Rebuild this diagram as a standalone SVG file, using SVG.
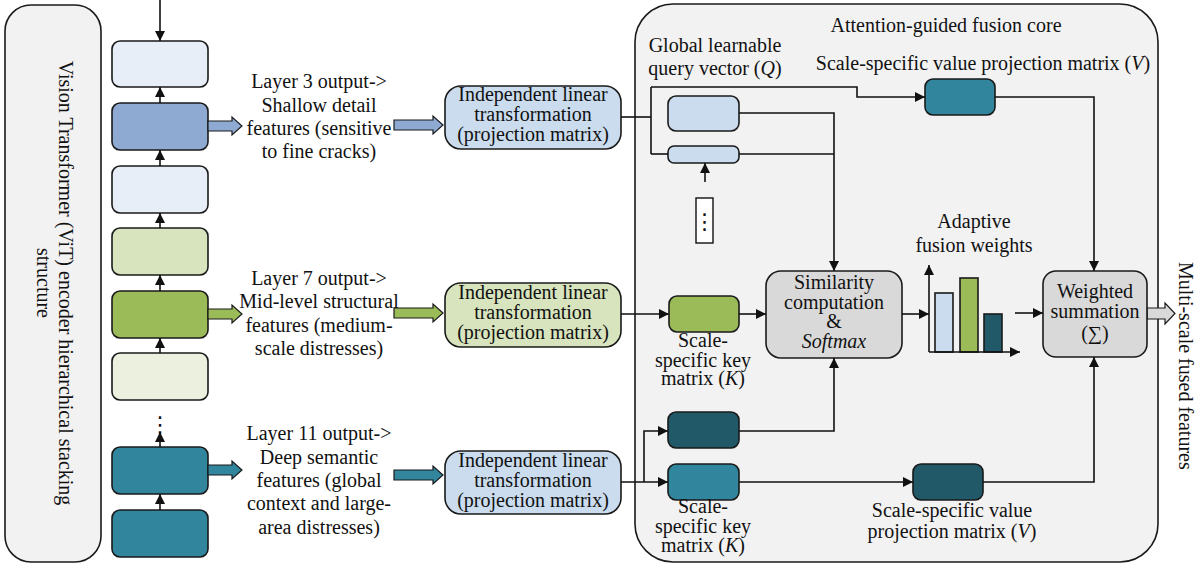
<svg xmlns="http://www.w3.org/2000/svg" width="1200" height="567" viewBox="0 0 1200 567">
<defs>
<style>
text{font-family:"Liberation Serif","Times New Roman",serif;font-size:20px;fill:#111}
.c{text-anchor:middle}
.i{font-style:italic}
.box{stroke:#1a1a1a;stroke-width:1.6}
.pan{fill:#f2f2f2;stroke:#1a1a1a;stroke-width:1.6}
.ln{fill:none;stroke:#111;stroke-width:1.6}
.ar{fill:none;stroke:#111;stroke-width:1.6;marker-end:url(#ah)}
.fat{stroke:#1a1a1a;stroke-width:1.2}
.lb{fill:#e7eef8}.bl{fill:#8eaad3}.lg{fill:#d7e4bd}.gr{fill:#9bbb59}.pg{fill:#ebf1de}.tl{fill:#31859c}.dk{fill:#215968}.qb{fill:#cadcee}.gy{fill:#d9d9d9}
.dots{font-family:"DejaVu Sans",sans-serif;font-size:22px;text-anchor:middle}
</style>
<marker id="ah" viewBox="0 0 10 10" refX="10" refY="5" markerWidth="11" markerHeight="10" markerUnits="userSpaceOnUse" orient="auto"><path d="M0,0 L10,5 L0,10 z" fill="#111"/></marker>
</defs>
<rect width="1200" height="567" fill="#ffffff"/>

<g id="encoder-panel">
<rect class="pan" x="5" y="5" width="96" height="557" rx="26"/>
<text transform="translate(59,283) rotate(90)" class="c"><tspan x="0" y="0">Vision Transformer (ViT) encoder hierarchical stacking</tspan><tspan x="0" y="22">structure</tspan></text>
</g>

<g id="core-panel">
<rect class="pan" x="635" y="4" width="523" height="558" rx="38"/>
<text x="946" y="32" class="c">Attention-guided fusion core</text>
</g>

<g id="layer-blocks">
<rect class="box lb" x="112" y="41" width="96" height="46" rx="8"/>
<rect class="box bl" x="112" y="103" width="96" height="47" rx="8"/>
<rect class="box lb" x="112" y="166" width="96" height="47" rx="8"/>
<rect class="box lg" x="112" y="228" width="96" height="47" rx="8"/>
<rect class="box gr" x="112" y="291" width="96" height="47" rx="8"/>
<rect class="box pg" x="112" y="353" width="96" height="47" rx="8"/>
<text class="dots" x="160" y="432">⋮</text>
<rect class="box tl" x="112" y="447" width="96" height="47" rx="8"/>
<rect class="box tl" x="112" y="510" width="96" height="47" rx="8"/>
</g>

<g id="label-layer3">
<text class="c"><tspan x="319" y="88">Layer 3 output-&gt;</tspan><tspan x="319" y="111.5">Shallow detail</tspan><tspan x="319" y="135">features (sensitive</tspan><tspan x="319" y="158">to fine cracks)</tspan></text>
</g>
<g id="label-layer7">
<text class="c"><tspan x="319" y="285">Layer 7 output-&gt;</tspan><tspan x="319" y="308">Mid-level structural</tspan><tspan x="319" y="332">features (medium-</tspan><tspan x="319" y="355">scale distresses)</tspan></text>
</g>
<g id="label-layer11">
<text class="c"><tspan x="319" y="440">Layer 11 output-&gt;</tspan><tspan x="319" y="463.5">Deep semantic</tspan><tspan x="319" y="487">features (global</tspan><tspan x="319" y="510">context and large-</tspan><tspan x="319" y="533.5">area distresses)</tspan></text>
</g>

<g id="fat-arrows">
<polygon class="fat bl" points="208,121 232,121 232,117 242,126 232,135 232,131 208,131"/>
<polygon class="fat bl" points="394,120 433,120 433,116 443,125 433,134 433,130 394,130"/>
<polygon class="fat gr" points="208,309 232,309 232,305 242,314 232,323 232,319 208,319"/>
<polygon class="fat gr" points="394,308 433,308 433,304 443,313 433,322 433,318 394,318"/>
<polygon class="fat tl" points="208,465 232,465 232,461 242,470 232,479 232,475 208,475"/>
<polygon class="fat tl" points="394,470 433,470 433,466 443,475 433,484 433,480 394,480"/>
<polygon class="fat gy" points="1147,308 1165,308 1165,303 1175,313.5 1165,324 1165,319 1147,319"/>
</g>

<g id="proj-1">
<rect class="box qb" x="445" y="86" width="176" height="63" rx="16"/>
<text class="c"><tspan x="533" y="101">Independent linear</tspan><tspan x="533" y="121">transformation</tspan><tspan x="533" y="141">(projection matrix)</tspan></text>
</g>
<g id="proj-2">
<rect class="box lg" x="445" y="283" width="176" height="64" rx="16"/>
<text class="c"><tspan x="533" y="299">Independent linear</tspan><tspan x="533" y="319">transformation</tspan><tspan x="533" y="339">(projection matrix)</tspan></text>
</g>
<g id="proj-3">
<rect class="box qb" x="445" y="451" width="176" height="63" rx="16"/>
<text class="c"><tspan x="533" y="467">Independent linear</tspan><tspan x="533" y="487">transformation</tspan><tspan x="533" y="507">(projection matrix)</tspan></text>
</g>

<g id="query">
<text class="c"><tspan x="715" y="52">Global learnable</tspan><tspan x="715" y="75">query vector (<tspan class="i">Q</tspan>)</tspan></text>
<rect class="box qb" x="668" y="96" width="71" height="35" rx="8"/>
<rect class="box qb" x="668" y="146" width="71" height="17" rx="6"/>
<rect x="696" y="198" width="17" height="45" fill="#ffffff" stroke="#111" stroke-width="1.4"/>
<text class="dots" x="704.5" y="229">⋮</text>
</g>

<g id="value-top">
<text x="983" y="70" class="c">Scale-specific value projection matrix (<tspan class="i">V</tspan>)</text>
<rect class="box tl" x="925" y="79" width="70" height="36" rx="8"/>
</g>

<g id="key-mid">
<rect class="box gr" x="669" y="296" width="70" height="36" rx="8"/>
<text class="c"><tspan x="703" y="347">Scale-</tspan><tspan x="703" y="366.5">specific key</tspan><tspan x="703" y="385">matrix (<tspan class="i">K</tspan>)</tspan></text>
</g>

<g id="key-bottom">
<rect class="box dk" x="668" y="412" width="71" height="36" rx="8"/>
<rect class="box tl" x="668" y="464" width="71" height="36" rx="8"/>
<text class="c"><tspan x="703" y="513">Scale-</tspan><tspan x="703" y="533">specific key</tspan><tspan x="703" y="552">matrix (<tspan class="i">K</tspan>)</tspan></text>
</g>

<g id="value-bottom">
<rect class="box dk" x="913" y="464" width="70" height="36" rx="8"/>
<text class="c"><tspan x="952" y="517">Scale-specific value</tspan><tspan x="952" y="538">projection matrix (<tspan class="i">V</tspan>)</tspan></text>
</g>

<g id="similarity">
<rect class="box gy" x="766" y="271" width="136" height="87" rx="15"/>
<text class="c"><tspan x="834" y="289">Similarity</tspan><tspan x="834" y="308.5">computation</tspan><tspan x="834" y="328">&amp;</tspan><tspan x="834" y="348" class="i">Softmax</tspan></text>
</g>

<g id="weights-chart">
<text class="c"><tspan x="974" y="228">Adaptive</tspan><tspan x="974" y="252">fusion weights</tspan></text>
<rect class="box qb" x="935" y="293" width="18" height="59" stroke-width="1.4"/>
<rect class="box gr" x="960" y="278" width="18" height="74" stroke-width="1.4"/>
<rect class="box dk" x="984" y="314" width="18" height="38" stroke-width="1.4"/>
</g>

<g id="weighted-sum">
<rect class="box gy" x="1043" y="271" width="104" height="86" rx="13"/>
<text class="c"><tspan x="1095" y="298">Weighted</tspan><tspan x="1095" y="318">summation</tspan><tspan x="1095" y="340">(∑)</tspan></text>
</g>

<g id="output-label">
<text transform="translate(1179,262) rotate(90)">Multi-scale fused features</text>
</g>

<g id="connectors">
<path class="ar" d="M160,0 V41"/>
<path class="ar" d="M160,103 V87"/>
<path class="ar" d="M160,166 V150"/>
<path class="ar" d="M160,228 V213"/>
<path class="ar" d="M160,291 V275"/>
<path class="ar" d="M160,353 V338"/>
<path class="ar" d="M160,447 V432"/>
<path class="ar" d="M160,510 V494"/>

<path class="ln" d="M621,117 H651"/>
<path class="ln" d="M651,154 V87"/>
<path class="ar" d="M651,87 H857 V97 H925"/>
<path class="ln" d="M651,154 H668"/>
<path class="ln" d="M739,154 H834"/>
<path class="ar" d="M739,113 H834 V271"/>
<path class="ar" d="M705,182 V163"/>

<path class="ar" d="M621,314 H669"/>
<path class="ar" d="M739,314 H766"/>

<path class="ar" d="M621,482 H668"/>
<path class="ar" d="M644,482 V431 H668"/>
<path class="ar" d="M739,431 H834 V358"/>
<path class="ar" d="M739,482 H913"/>
<path class="ar" d="M983,482 H1094 V357"/>
<path class="ar" d="M995,97 H1094 V271"/>

<path class="ar" d="M902,314 H929"/>
<path class="ar" d="M929,352 V265"/>
<path class="ar" d="M929,352 H1020"/>
<path class="ar" d="M1015,313 H1043"/>
</g>
</svg>
